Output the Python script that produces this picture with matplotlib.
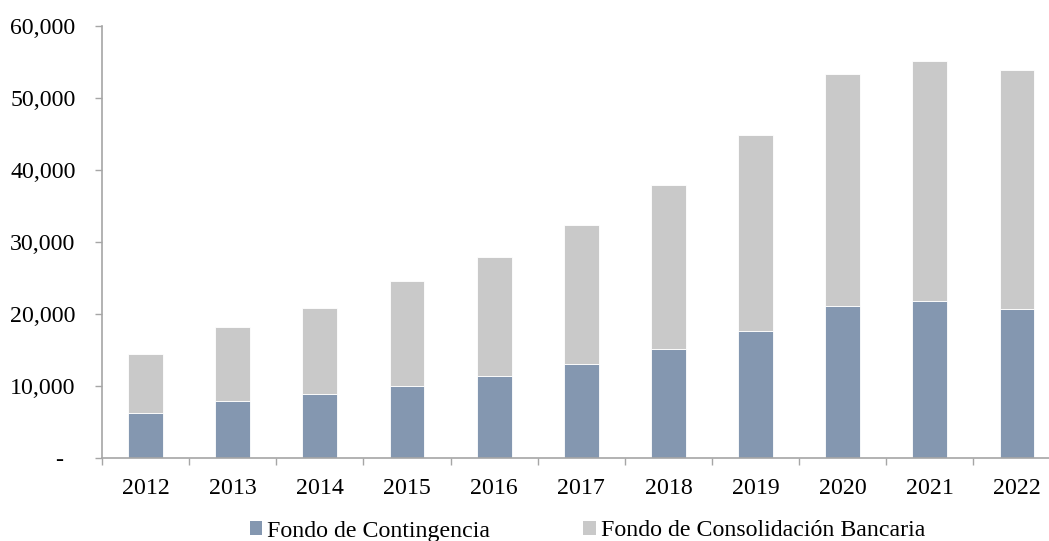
import matplotlib
matplotlib.use("Agg")
import matplotlib.pyplot as plt
from matplotlib.patches import Patch
from matplotlib.ticker import FuncFormatter, MultipleLocator

plt.rcParams['font.family'] = ['Liberation Serif', 'DejaVu Serif']

years = ['2012', '2013', '2014', '2015', '2016', '2017', '2018', '2019', '2020', '2021', '2022']
contingencia = [6330, 8000, 8970, 10080, 11460, 13130, 15170, 17670, 21140, 21830, 20760]
totales = [14480, 18270, 20900, 24610, 27940, 32340, 37970, 44830, 53340, 55100, 53890]
consolidacion = [t - c for t, c in zip(totales, contingencia)]

names = ['Fondo de Contingencia', 'Fondo de Consolidación Bancaria']
colors = ['#8497b0', '#c9c9c9']
FS = 17.2

fig = plt.figure(figsize=(10.49, 5.41), dpi=100)
ax = fig.add_axes([102 / 1049, 82.7 / 541, (1060.5 - 102) / 1049, (458.3 - 26) / 541])

x = list(range(len(years)))
ax.bar(x, contingencia, width=0.4, color=colors[0], edgecolor='white', linewidth=0.6, zorder=2)
ax.bar(x, consolidacion, width=0.4, bottom=contingencia, color=colors[1], edgecolor='white', linewidth=0.6, zorder=2)

ax.set_xlim(-0.5, len(years) - 0.5)
ax.set_ylim(0, 60000)
ax.yaxis.set_major_locator(MultipleLocator(10000))
ax.yaxis.set_major_formatter(FuncFormatter(lambda v, p: '-  ' if v == 0 else f'{int(v):,}'))

ax.set_xticks(x)
ax.set_xticklabels(years)
ax.set_xticks([i - 0.5 for i in range(len(years) + 1)], minor=True)
ax.tick_params(axis='x', which='major', length=0, pad=14, labelsize=FS)
ax.tick_params(axis='x', which='minor', length=5, width=1, color='#a6a6a6', direction='out')
ax.tick_params(axis='y', length=5, width=1, color='#a6a6a6', direction='out', pad=14, labelsize=FS)

for s in ['top', 'right']:
    ax.spines[s].set_visible(False)
for s in ['left', 'bottom']:
    ax.spines[s].set_color('#a6a6a6')
    ax.spines[s].set_linewidth(1.2)

handles = [Patch(facecolor=colors[0]), Patch(facecolor=colors[1])]
fig.legend(handles, names, loc='center', bbox_to_anchor=(0.560, 1 - 531 / 541), ncol=2,
           frameon=False, fontsize=FS, handlelength=0.52, handleheight=0.52,
           handletextpad=0.2, columnspacing=3.9, borderpad=0)

fig.savefig('out.png', dpi=100)
